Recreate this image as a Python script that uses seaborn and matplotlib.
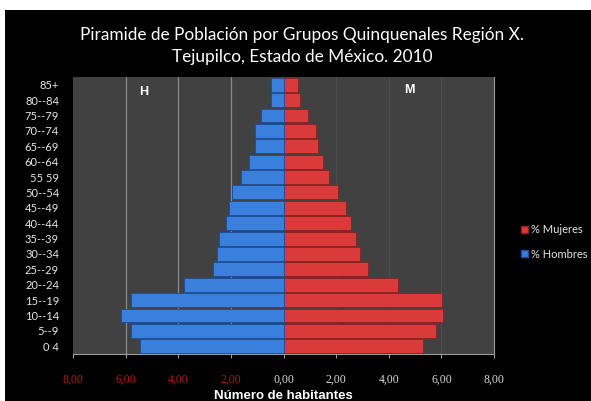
import matplotlib
matplotlib.use("Agg")
import matplotlib.pyplot as plt
import seaborn as sns
import pandas as pd
from matplotlib.patches import Rectangle, Patch

grupos = ["85+", "80--84", "75--79", "70--74", "65--69", "60--64", "55 59", "50--54",
          "45--49", "40--44", "35--39", "30--34", "25--29", "20--24", "15--19",
          "10--14", "5--9", "0 4"]
hombres = [0.48, 0.48, 0.84, 1.08, 1.08, 1.33, 1.62, 1.96, 2.09, 2.19, 2.47, 2.51,
           2.68, 3.77, 5.78, 6.18, 5.78, 5.47]
mujeres = [0.57, 0.61, 0.95, 1.23, 1.30, 1.49, 1.73, 2.09, 2.38, 2.57, 2.75, 2.91,
           3.23, 4.34, 6.04, 6.06, 5.78, 5.29]
xticks = [-8, -6, -4, -2, 0, 2, 4, 6, 8]
xticklabels = ["8,00", "6,00", "4,00", "2,00", "0,00", "2,00", "4,00", "6,00", "8,00"]

df = pd.DataFrame({"grupo": grupos,
                   "hombres": [-v for v in hombres],
                   "mujeres": mujeres})

sns.set_style("dark")
plt.rcParams["font.family"] = ["Lato", "DejaVu Sans"]

W, H = 591, 401
fig = plt.figure(figsize=(W / 100, H / 100), dpi=100)
fig.patch.set_facecolor("white")
fig.add_artist(Rectangle((5 / W, 0), 1 - 5 / W, (H - 10) / H, transform=fig.transFigure,
                         facecolor="black", edgecolor="none", zorder=0))

ax = fig.add_axes([73 / W, (H - 354) / H, (494 - 73) / W, (354 - 77) / H])
ax.set_facecolor("#414141")

blue = "#3a7fdc"
red = "#da3a3a"
sns.barplot(data=df, y="grupo", x="mujeres", order=grupos, orient="h", color=red,
            saturation=1, width=0.9, edgecolor="#8e1f1f", linewidth=0.6, ax=ax, zorder=3)
sns.barplot(data=df, y="grupo", x="hombres", order=grupos, orient="h", color=blue,
            saturation=1, width=0.9, edgecolor="#1d4d96", linewidth=0.6, ax=ax, zorder=3)

ax.set_xlim(-8, 8)
ax.set_ylim(len(grupos) - 0.5, -0.5)
ax.set_xticks(xticks)
ax.set_xticklabels(xticklabels, fontfamily="Liberation Serif", fontsize=8.5)
for lab, v in zip(ax.get_xticklabels(), xticks):
    lab.set_color("#b01818" if v < 0 else "#d8d8d8")
ax.tick_params(axis="x", length=3, color="#9a9a9a", pad=11, bottom=True)
ax.tick_params(axis="y", length=0, labelsize=8, labelcolor="#e6e6e6", pad=10)

ax.grid(False)
for v in [-6, -4, -2]:
    ax.axvline(v, color="#8a8a8a", linewidth=0.9, zorder=1)
for v in [2, 4, 6]:
    ax.axvline(v, color="#4d4d4d", linewidth=0.9, zorder=1)

for s in ["top", "left"]:
    ax.spines[s].set_visible(False)
ax.spines["bottom"].set_color("#9a9a9a")
ax.spines["right"].set_color("#9a9a9a")
ax.spines["bottom"].set_linewidth(0.8)
ax.spines["right"].set_linewidth(0.8)

ax.set_ylabel("")
ax.set_xlabel("Número de habitantes", color="white", fontsize=9.5, fontweight="bold",
              fontfamily=["Liberation Sans", "DejaVu Sans"], labelpad=3)

ax.text(-5.3, 0.5, "H", color="white", fontsize=9, fontweight="bold",
        ha="center", va="center", fontfamily=["Liberation Sans"])
ax.text(4.8, 0.35, "M", color="white", fontsize=9, fontweight="bold",
        ha="center", va="center", fontfamily=["Liberation Sans"])

fig.text(0.511, (H - 35) / H, "Piramide de Población por Grupos Quinquenales Región X.",
         color="white", fontsize=12.4, ha="center", va="center")
fig.text(0.511, (H - 57) / H, "Tejupilco, Estado de México. 2010",
         color="white", fontsize=12.4, ha="center", va="center")

handles = [Patch(facecolor=red, edgecolor="#8e1f1f", label="% Mujeres"),
           Patch(facecolor=blue, edgecolor="#1d4d96", label="% Hombres")]
leg = fig.legend(handles=handles, loc="upper left",
                 bbox_to_anchor=(519 / W, (H - 222) / H), frameon=False,
                 fontsize=8, handlelength=0.6, handleheight=0.6, handletextpad=0.3,
                 labelspacing=1.2, labelcolor="#e6e6e6", borderaxespad=0, borderpad=0.2)

fig.savefig("out.png", dpi=100, facecolor=fig.get_facecolor())
